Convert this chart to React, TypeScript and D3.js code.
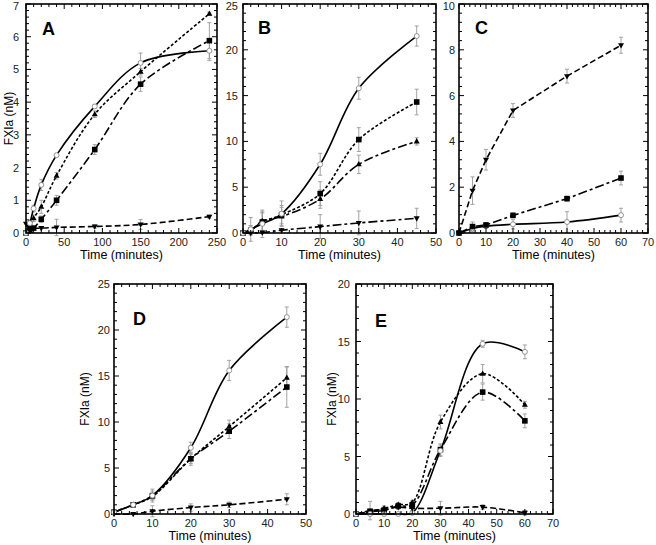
import React from "react";
import * as d3 from "d3";

// ---------- DATA ----------
const aTime = [0, 5, 10, 20, 40, 90, 150, 240];
const aCircle = [0, 0.3, 0.75, 1.47, 2.38, 3.87, 5.2, 5.57];
const aCircleErr = [0, 0.1, 0.1, 0.17, 0.05, 0.05, 0.3, 0.3];
const aTriUp = [0, 0.2, 0.45, 0.8, 1.75, 3.63, 4.93, 6.7];
const aTriUpErr = [0, 0.1, 0.1, 0.2, 0.1, 0.1, 0.1, 0.05];
const aSquare = [0, 0.08, 0.15, 0.42, 1.0, 2.55, 4.55, 5.88];
const aSquareErr = [0, 0.05, 0.05, 0.1, 0.15, 0.15, 0.22, 0.55];
const aTriDown = [0.28, 0.2, 0.15, 0.15, 0.17, 0.2, 0.26, 0.5];
const aTriDownErr = [0, 0, 0, 0, 0.25, 0.05, 0.15, 0.05];

const bTime = [0, 2, 5, 10, 20, 30, 45];
const bCircle = [0, 0.4, 1.0, 2.1, 7.5, 15.8, 21.5];
const bCircleErr = [0, 1.3, 1.5, 1.4, 1.2, 1.2, 1.1];
const bSquare = [0, 0.3, 1.2, 2.0, 4.3, 10.2, 14.3];
const bSquareErr = [0, 0.5, 1.0, 1.0, 1.3, 1.3, 1.4];
const bTriUp = [0, 0.3, 1.3, 1.8, 3.7, 7.5, 10.0];
const bTriUpErr = [0, 0.5, 1.0, 1.0, 1.0, 1.0, 0.4];
const bTriDown = [0, 0, 0.05, 0.3, 0.7, 1.1, 1.6];
const bTriDownErr = [0, 0, 0, 0, 1.3, 1.3, 1.1];

const cTime = [0, 5, 10, 20, 40, 60];
const cTriDown = [0, 1.85, 3.2, 5.35, 6.85, 8.2];
const cTriDownErr = [0, 0.6, 0.45, 0.3, 0.3, 0.35];
const cSquare = [0, 0.28, 0.35, 0.77, 1.5, 2.4];
const cSquareErr = [0, 0.2, 0.1, 0.1, 0.1, 0.3];
const cCircle = [0, 0.2, 0.3, 0.38, 0.48, 0.78];
const cCircleErr = [0, 0.1, 0.1, 0.2, 0.45, 0.3];

const dTime = [0, 5, 10, 20, 30, 45];
const dCircle = [0.2, 1.0, 2.0, 7.2, 15.6, 21.4];
const dCircleErr = [0.2, 0.2, 0.7, 0.6, 1.1, 1.1];
const dTriUp = [0.2, 1.0, 1.9, 6.0, 9.5, 14.8];
const dTriUpErr = [0, 0.2, 0.3, 0.5, 0.7, 1.2];
const dSquare = [0.2, 1.0, 2.0, 6.0, 9.0, 13.8];
const dSquareErr = [0.1, 0.2, 0.5, 0.7, 0.8, 2.2];
const dTriDown = [0, 0, 0.3, 0.7, 1.0, 1.6];
const dTriDownErr = [0, 0, 0.6, 0.4, 0.3, 0.6];

const eTime = [0, 5, 10, 15, 20, 30, 45, 60];
const eCircle = [0, 0, 0, 0, 0.1, 5.5, 14.8, 14.1];
const eCircleErr = [0, 0, 0, 0, 0, 0.5, 0.3, 0.6];
const eTriUp = [0, 0.2, 0.5, 0.8, 1.0, 8.0, 12.2, 9.5];
const eTriUpErr = [0, 0.2, 0.2, 0.2, 0.2, 0.6, 0.8, 0.3];
const eSquare = [0, 0.2, 0.3, 0.7, 0.8, 5.6, 10.6, 8.1];
const eSquareErr = [0, 0.2, 0.2, 0.2, 0.3, 0.5, 0.7, 0.6];
const eTriDown = [0, 0.3, 0.4, 0.6, 0.5, 0.5, 0.6, 0.1];
const eTriDownErr = [0, 0.8, 0.2, 0.2, 0.2, 0.6, 0.2, 0.2];

const xTitle = "Time (minutes)";
const yTitle = "FXIa (nM)";

// ---------- STYLE / LAYOUT ----------
const FONT = "'Liberation Sans', Arial, Helvetica, sans-serif";
const DASH: Record<string, string | undefined> = {
  solid: undefined,
  dotted: "3,2",
  longdash: "9,3,3,3",
  dashed: "6,3",
};

type Series = { x: number[]; y: number[]; err: number[]; marker: string; dash: string; linear?: boolean };
type Panel = {
  id: string;
  left: number; right: number; top: number; bottom: number;
  xMax: number; xStep: number; xMinor: number;
  yMax: number; yStep: number; yMinor: number;
  yTitleX?: number; yTickDx: number;
  letterDx: number; letterDy: number;
  series: Series[];
};

const panels: Panel[] = [
  {
    id: "A", left: 26, right: 217, top: 4, bottom: 233,
    xMax: 250, xStep: 50, xMinor: 10, yMax: 7, yStep: 1, yMinor: 0.2,
    yTitleX: 13, yTickDx: 7, letterDx: 16, letterDy: 31,
    series: [
      { x: aTime, y: aTriDown, err: aTriDownErr, marker: "triDown", dash: "dashed" },
      { x: aTime, y: aSquare, err: aSquareErr, marker: "square", dash: "longdash" },
      { x: aTime, y: aTriUp, err: aTriUpErr, marker: "triUp", dash: "dotted" },
      { x: aTime, y: aCircle, err: aCircleErr, marker: "circle", dash: "solid" },
    ],
  },
  {
    id: "B", left: 243, right: 436, top: 4, bottom: 233,
    xMax: 50, xStep: 10, xMinor: 2, yMax: 25, yStep: 5, yMinor: 1,
    yTickDx: 5, letterDx: 15, letterDy: 30,
    series: [
      { x: bTime, y: bTriDown, err: bTriDownErr, marker: "triDown", dash: "longdash" },
      { x: bTime, y: bTriUp, err: bTriUpErr, marker: "triUp", dash: "longdash" },
      { x: bTime, y: bSquare, err: bSquareErr, marker: "square", dash: "dotted" },
      { x: bTime, y: bCircle, err: bCircleErr, marker: "circle", dash: "solid" },
    ],
  },
  {
    id: "C", left: 459, right: 648, top: 4, bottom: 233,
    xMax: 70, xStep: 10, xMinor: 2, yMax: 10, yStep: 2, yMinor: 0.4,
    yTickDx: 4, letterDx: 16, letterDy: 30,
    series: [
      { x: cTime, y: cCircle, err: cCircleErr, marker: "circle", dash: "solid" },
      { x: cTime, y: cSquare, err: cSquareErr, marker: "square", dash: "longdash", linear: true },
      { x: cTime, y: cTriDown, err: cTriDownErr, marker: "triDown", dash: "dashed", linear: true },
    ],
  },
  {
    id: "D", left: 114, right: 306, top: 284, bottom: 514,
    xMax: 50, xStep: 10, xMinor: 2, yMax: 25, yStep: 5, yMinor: 1,
    yTitleX: 89, yTickDx: 4, letterDx: 19, letterDy: 41,
    series: [
      { x: dTime, y: dTriDown, err: dTriDownErr, marker: "triDown", dash: "dashed" },
      { x: dTime, y: dSquare, err: dSquareErr, marker: "square", dash: "longdash" },
      { x: dTime, y: dTriUp, err: dTriUpErr, marker: "triUp", dash: "dotted" },
      { x: dTime, y: dCircle, err: dCircleErr, marker: "circle", dash: "solid" },
    ],
  },
  {
    id: "E", left: 356, right: 553, top: 284, bottom: 514,
    xMax: 70, xStep: 10, xMinor: 2, yMax: 20, yStep: 5, yMinor: 1,
    yTitleX: 336, yTickDx: 6, letterDx: 19, letterDy: 43,
    series: [
      { x: eTime, y: eTriDown, err: eTriDownErr, marker: "triDown", dash: "dashed" },
      { x: eTime, y: eSquare, err: eSquareErr, marker: "square", dash: "longdash" },
      { x: eTime, y: eTriUp, err: eTriUpErr, marker: "triUp", dash: "dotted" },
      { x: eTime, y: eCircle, err: eCircleErr, marker: "circle", dash: "solid" },
    ],
  },
];

function Marker({ type, cx, cy }: { type: string; cx: number; cy: number }) {
  if (type === "circle")
    return <circle cx={cx} cy={cy} r={2.5} fill="#fff" stroke="#888" strokeWidth={0.9} />;
  if (type === "square")
    return <rect x={cx - 2.8} y={cy - 2.8} width={5.6} height={5.6} fill="#000" />;
  if (type === "triUp")
    return <path d={`M${cx},${cy - 3.3} L${cx + 3},${cy + 2} L${cx - 3},${cy + 2} Z`} fill="#000" />;
  return <path d={`M${cx},${cy + 3.3} L${cx + 3},${cy - 2} L${cx - 3},${cy - 2} Z`} fill="#000" />;
}

function PanelView({ p }: { p: Panel }) {
  const x = d3.scaleLinear().domain([0, p.xMax]).range([p.left, p.right]);
  const y = d3.scaleLinear().domain([0, p.yMax]).range([p.bottom, p.top]);
  const xMajor = d3.range(0, p.xMax + 1e-9, p.xStep);
  const xMin = d3.range(0, p.xMax + 1e-9, p.xMinor);
  const yMajor = d3.range(0, p.yMax + 1e-9, p.yStep);
  const yMin = d3.range(0, p.yMax + 1e-9, p.yMinor);
  const isMajor = (v: number, step: number) => Math.abs(v / step - Math.round(v / step)) < 1e-6;

  const ticks: JSX.Element[] = [];
  xMin.forEach((v, i) => {
    const L = isMajor(v, p.xStep) ? 5 : 3;
    const px = x(v);
    ticks.push(<line key={`xb${i}`} x1={px} x2={px} y1={p.bottom} y2={p.bottom - L} stroke="#000" strokeWidth={1} />);
    ticks.push(<line key={`xt${i}`} x1={px} x2={px} y1={p.top} y2={p.top + L} stroke="#000" strokeWidth={1} />);
  });
  yMin.forEach((v, i) => {
    const L = isMajor(v, p.yStep) ? 5 : 3;
    const py = y(v);
    ticks.push(<line key={`yl${i}`} x1={p.left} x2={p.left + L} y1={py} y2={py} stroke="#000" strokeWidth={1} />);
    ticks.push(<line key={`yr${i}`} x1={p.right} x2={p.right - L} y1={py} y2={py} stroke="#000" strokeWidth={1} />);
  });

  return (
    <g>
      {p.series.map((s, si) =>
        s.x.map((xv, i) =>
          s.err[i] > 0 ? (
            <g key={`e${si}-${i}`} stroke="#999" strokeWidth={0.9}>
              <line x1={x(xv)} x2={x(xv)} y1={y(s.y[i] - s.err[i])} y2={y(s.y[i] + s.err[i])} />
              <line x1={x(xv) - 2} x2={x(xv) + 2} y1={y(s.y[i] - s.err[i])} y2={y(s.y[i] - s.err[i])} />
              <line x1={x(xv) - 2} x2={x(xv) + 2} y1={y(s.y[i] + s.err[i])} y2={y(s.y[i] + s.err[i])} />
            </g>
          ) : null
        )
      )}
      {p.series.map((s, si) => {
        const gen = d3
          .line<number>()
          .x((_, i) => x(s.x[i]))
          .y((v) => y(v))
          .curve(s.linear ? d3.curveLinear : d3.curveCatmullRom.alpha(0.5));
        return (
          <path key={`l${si}`} d={gen(s.y) || ""} fill="none" stroke="#000" strokeWidth={1.6}
            strokeDasharray={DASH[s.dash]} />
        );
      })}
      {p.series.map((s, si) =>
        s.x.map((xv, i) => <Marker key={`m${si}-${i}`} type={s.marker} cx={x(xv)} cy={y(s.y[i])} />)
      )}
      <rect x={p.left} y={p.top} width={p.right - p.left} height={p.bottom - p.top} fill="none" stroke="#000" strokeWidth={1.6} />
      {ticks}
      {xMajor.map((v, i) => (
        <text key={`xl${i}`} x={x(v)} y={p.bottom + 13} textAnchor="middle" fontSize={11} fontFamily={FONT} fill="#222">
          {v}
        </text>
      ))}
      {yMajor.map((v, i) => (
        <text key={`yl${i}`} x={p.left - p.yTickDx} y={Math.max(y(v) + 4, 10)} textAnchor="end" fontSize={11} fontFamily={FONT} fill="#222">
          {v}
        </text>
      ))}
      <text x={(p.left + p.right) / 2} y={p.bottom + 26} textAnchor="middle" fontSize={12.5} fontFamily={FONT} fill="#000">
        {xTitle}
      </text>
      {p.yTitleX !== undefined && (
        <text transform={`translate(${p.yTitleX},${(p.top + p.bottom) / 2}) rotate(-90)`} textAnchor="middle" fontSize={12} fontFamily={FONT} fill="#000">
          {yTitle}
        </text>
      )}
      <text x={p.left + p.letterDx} y={p.top + p.letterDy} fontSize={18} fontWeight="bold" fontFamily={FONT} fill="#000">
        {p.id}
      </text>
    </g>
  );
}

export default function App() {
  return (
    <svg width={656} height={545} style={{ position: "absolute", left: 0, top: 0, background: "#fff" }}>
      <rect width={656} height={545} fill="#fff" />
      {panels.map((p) => (
        <PanelView key={p.id} p={p} />
      ))}
    </svg>
  );
}
